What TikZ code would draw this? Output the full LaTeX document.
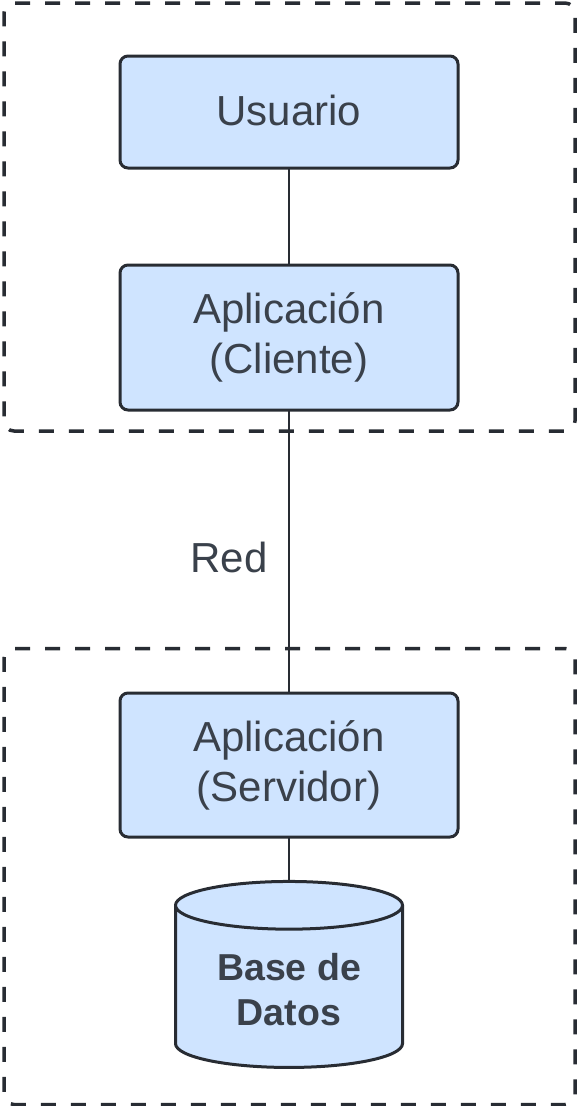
\documentclass[tikz,border=0pt]{standalone}
\usepackage{fontspec}
\setmainfont{Liberation Sans}
\usepackage{tikz}
\usetikzlibrary{shapes.geometric}
\definecolor{boxfill}{HTML}{CFE4FF}
\definecolor{boxline}{HTML}{282C33}
\definecolor{boxtext}{HTML}{3A414B}
\tikzstyle{block}=[rectangle, rounded corners=8pt, draw=boxline, line width=3pt,
    fill=boxfill, text=boxtext, minimum width=338pt, align=center, outer sep=0pt,
    font=\fontsize{42}{50}\selectfont]
\tikzstyle{store}=[cylinder, shape border rotate=90, aspect=0.317, draw=boxline,
    line width=3pt, fill=boxfill, text=boxtext, minimum width=227pt, minimum height=186pt,
    align=center, outer sep=0pt, font=\fontsize{37.5}{45}\selectfont\bfseries]
\tikzstyle{zone}=[rectangle, rounded corners=10pt, draw=boxline, line width=3.5pt,
    dash pattern=on 15pt off 15pt, dash phase=5pt]
\tikzstyle{link}=[draw=boxline, line width=1.5pt]

\begin{document}
\begin{tikzpicture}[x=1pt, y=-1pt]
\useasboundingbox (0,0) rectangle (576,1106);
\node[zone, minimum width=571pt, minimum height=428pt] (zcliente) at (289.5,217){};
\node[zone, minimum width=571pt, minimum height=456pt] (zservidor) at (289.5,876.5){};
\node[block, minimum height=112pt] (usuario) at (289,112){\raisebox{4pt}{Usuario}};
\node[block, minimum height=145pt] (cliente) at (289,337.5){Aplicación\\(Cliente)};
\node[block, minimum height=144pt] (servidor) at (289,765){Aplicación\\(Servidor)};
\node[store] (bd) at (289,990){Base de\\Datos};
\node[text=boxtext, font=\fontsize{42}{50}\selectfont] (red) at (229,557){Red};
\draw[link](usuario) -- (cliente);
\draw[link](cliente) -- (servidor);
\draw[link](servidor) -- (bd);
\end{tikzpicture}
\end{document}
